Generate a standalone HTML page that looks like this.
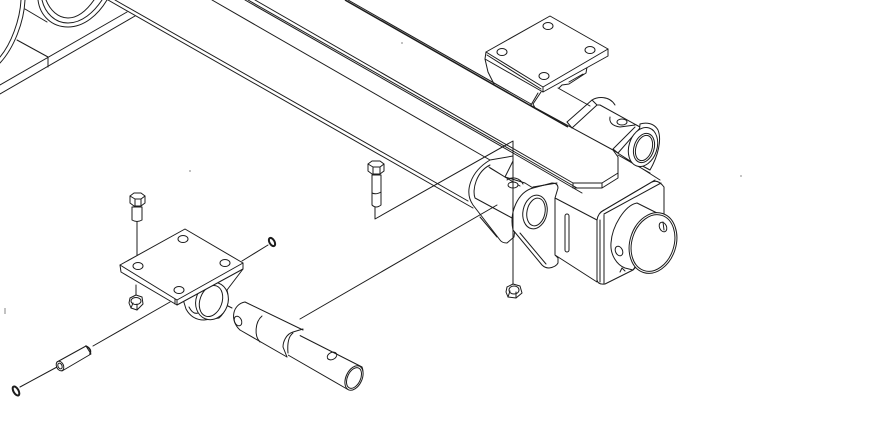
<!DOCTYPE html>
<html><head><meta charset="utf-8"><style>
html,body{margin:0;padding:0;background:#fff}
svg{display:block}
.l{fill:none;stroke:#1c1c1c;stroke-width:1;stroke-linejoin:round;stroke-linecap:round}
.w{fill:#fff;stroke:#1c1c1c;stroke-width:1;stroke-linejoin:round;stroke-linecap:round}
.t{fill:none;stroke:#1c1c1c;stroke-width:1.5;stroke-linejoin:round}
.r{fill:none;stroke:#1c1c1c;stroke-width:2}
.g{fill:none;stroke:#666;stroke-width:.8}
</style></head><body>
<svg width="885" height="441" viewBox="0 0 885 441" xmlns="http://www.w3.org/2000/svg">
<!-- top-left frame -->
<g class="l">
<path d="M0 85L127 12M0 94L135 16M48 57V67M17 40L48 57M25 9L47 22"/>
<path d="M25 0C24 22 14 48 0 63M21 0C20 20 11 44 0 57"/>
<path d="M38 0C40 16 52 27 68 27C84 27 98 15 107 0M42 0C45 13 55 23 68 23C82 23 94 12 102 0M46 0C50 10 58 18 68 18C78 18 87 10 94 0"/>
<!-- long beam lines -->
<path d="M108 0L473 208M115 0L468 201"/>
<path d="M212 0L490 160"/>
<path d="M245 0L513 153L582 193M248 0L513 151L577 188"/>
<path d="M255 0L573 183"/>
<path d="M530 105L613 150"/>
<path d="M348 0L531 104"/>
</g>
<path class="t" d="M345 0L531 106"/>
<path class="t" d="M531 106L568 127"/>
<!-- rear bracket on beam -->
<g class="l">
<path d="M485 59L488 72L494 84"/>
<path d="M531 105L538 93M535 108L533 104L541 92"/>
<path d="M558 88L590 106"/>
<path d="M587 67L586 73L569 84L562 85L559 88M569 82L583 74"/>
<path class="w" d="M550 16L608 49V56L543 92L485 59L486 52Z"/>
<path d="M486 52L543 87L608 49M543 87V92M487 55L541 89"/>
<ellipse cx="548" cy="26" rx="5" ry="3.500"/><ellipse cx="502" cy="52" rx="5" ry="3.500"/>
<ellipse cx="590" cy="50" rx="5" ry="3.500"/><ellipse cx="544" cy="76" rx="5" ry="3.500"/>
</g>
<!-- rear lug -->
<g class="l">
<path d="M567 122L592 100C597 97 609 95 615 105"/>
<path d="M572 128L597 105L600 105L640 127"/>
<path d="M567 122L572 128M592 100L597 105"/>
<path d="M610 117C609 122 612 126 620 127L635 125"/>
<ellipse cx="622" cy="122" rx="5" ry="3"/>
<path d="M613 149L635 127M618 153L640 128M613 149L618 153"/>
<path d="M613 150L660 180M618 155L650 173"/>
<path class="w" d="M640 124C646 122 654 123 658 130C662 140 658 156 650 170L637 163Z"/>
<ellipse class="w" cx="643" cy="147" rx="14" ry="20" transform="rotate(18 643 147)"/>
<ellipse cx="644" cy="148" rx="10" ry="15" transform="rotate(18 644 148)"/>
<ellipse cx="644" cy="148" rx="8" ry="13" transform="rotate(18 644 148)"/>
</g>
<!-- tube plate tail -->
<g class="l">
<path class="w" d="M573 183H602L618 173V157L613 150" style="fill:none"/>
<path d="M573 188H602L618 178V173M573 183V188M602 183V188"/>
</g>
<!-- front box -->
<g class="l">
<path d="M555 198L597 220V282L555 255V198Z"/>
<path class="w" d="M597 220Q598 213 604 210L652 182Q658 179 664 187V238L633 270L605 284Q598 285 597 280Z"/>
<path d="M600 220V282M604 215V284M601 212L655 180M604 214L661 183"/>
<rect x="565" y="214" width="4" height="38" rx="2"/>
<path class="w" d="M637 203C625 205 612 226 611 243C610 255 617 265 625 268L633 270L660 230L657 213Z"/>
<path d="M620 272L622 268L625 271"/>
<ellipse class="w" cx="653" cy="243" rx="23" ry="31" transform="rotate(18 653 243)"/>
<ellipse cx="653" cy="243" rx="21" ry="29" transform="rotate(18 653 243)"/>
<ellipse cx="663" cy="227" rx="3.500" ry="5" transform="rotate(-25 663 227)"/>
<path d="M663 222L664 230"/>
<ellipse cx="619" cy="251" rx="3.500" ry="5" transform="rotate(-25 619 251)"/>
</g>
<!-- front clevis -->
<g class="l">
<path class="w" d="M490 160L513 156L513 161L505 177L512 179L525 183L533 188L515 228L514 237L507 243Q502 243 500 240L473 205C464 192 470 172 490 160Z"/>
<path d="M490 165C476 172 472 190 475 198L512 218M489 167L505 177M490 168L520 186"/>
<path d="M480 217L497 237"/>
<path class="w" d="M533 188L552 183Q558 183 558 188L555 198V255L558 258V263Q556 267 549 268Q545 268 542 265L513 230C509 212 518 192 533 188Z"/>
<path d="M520 233L546 264M533 187L557 183"/>
<ellipse class="w" cx="535" cy="212" rx="12" ry="17" transform="rotate(12 535 212)"/>
<ellipse cx="536" cy="212" rx="9" ry="14" transform="rotate(12 536 212)"/>
<path d="M507 180C512 176 520 178 523 184"/>
<ellipse class="w" cx="513" cy="185" rx="5" ry="3"/>
</g>
<!-- leaders -->
<g class="l">
<path d="M375 207V219L513 141V285"/>
<path d="M300 319L497 205"/>
<path d="M137 221V266M136 285V296"/>
<path d="M242 261L268 245"/>
<path d="M20 387L57 367M93 346L170 302"/>
<path d="M222 303L232 308"/>
</g>
<!-- big bolt -->
<g class="l">
<path class="w" d="M372 175V205Q376 209 381 205V175Z"/>
<path d="M372 193Q376 195 381 192"/>
<path class="w" d="M368 164L372 161H380L384 164V171L380 174H372L368 171Z"/>
<path d="M368 164L373 167H380L384 164M373 167V174M380 167V174"/>
</g>
<!-- nut right -->
<g class="l">
<path class="w" d="M507 287L513 284L520 286L522 293L516 298L508 297L506 292Z"/>
<ellipse cx="514" cy="290" rx="5" ry="4"/><path d="M508 297L510 291M516 298V292"/>
</g>
<!-- small bolt -->
<g class="l">
<path class="w" d="M132 207V220Q137 223 142 220V207Z"/>
<path class="w" d="M130 196L134 193H141L145 196V203L141 206H134L130 203Z"/>
<path d="M130 196L135 199H141L145 196M135 199V206M141 199V206"/>
</g>
<!-- pillow block -->
<g class="l">
<path class="w" d="M182 296L186 309Q192 320 204 320L219 318C226 312 230 300 227 290L243 269L200 282Z"/>
<ellipse class="w" cx="212" cy="301" rx="16" ry="19" transform="rotate(20 212 301)"/>
<ellipse class="w" cx="211" cy="301" rx="11" ry="16" transform="rotate(20 211 301)"/>
<path d="M189 307C192 313 195 314 198 313M230 275L240 270"/>
<path class="w" d="M185 229L243 263V269L177 305L121 272L120 265Z"/>
<path d="M120 265L177 300L243 263M177 300V305M175 299V304"/>
<ellipse cx="183" cy="239" rx="5" ry="3.500"/><ellipse cx="138" cy="266" rx="5" ry="3.500"/>
<ellipse cx="225" cy="263" rx="5" ry="3.500"/><ellipse cx="179" cy="290" rx="5" ry="3.500"/>
</g>
<!-- small nut left -->
<g class="l">
<path class="w" d="M130 298L136 295L142 297L143 304L137 310L131 308L129 303Z"/>
<ellipse cx="136" cy="301" rx="5" ry="3.500"/><path d="M131 308L133 303M137 310V304"/>
</g>
<!-- washers -->
<g class="r">
<ellipse cx="272" cy="242" rx="2.500" ry="4.500" transform="rotate(-30 272 242)"/>
<ellipse cx="16" cy="391" rx="2.500" ry="5" transform="rotate(-30 16 391)"/>
</g>
<!-- small pin -->
<g class="l">
<path class="w" d="M57 362L86 346L91 354L62 371Z"/>
<ellipse class="w" cx="60" cy="366" rx="3.500" ry="5" transform="rotate(-25 60 366)"/>
<ellipse cx="60" cy="366" rx="2" ry="3" transform="rotate(-25 60 366)"/>
<path class="t" d="M86 346Q92 349 90 354"/>
</g>
<!-- large pin -->
<g class="l">
<path class="w" d="M293 332L362 367C366 376 356 394 347 389L288 355Z"/>
<ellipse class="w" cx="354" cy="378" rx="8" ry="13" transform="rotate(25 354 378)"/>
<ellipse cx="354" cy="378" rx="6.500" ry="11" transform="rotate(25 354 378)"/>
<ellipse cx="332" cy="356" rx="3.500" ry="5" transform="rotate(65 332 356)"/>
<path class="w" d="M245 302L303 330L287 357L240 330C230 322 232 305 245 302Z" style="stroke:none"/>
<path d="M245 302L303 330M240 330L287 357"/>
<path d="M245 302C233 304 229 320 240 330"/>
<ellipse cx="238" cy="321" rx="3.500" ry="5" transform="rotate(-25 238 321)"/>
<path d="M262 316C255 322 254 336 260 342"/>
<path d="M303 329L293 332C286 334 283 342 283 347L287 357M293 333C289 336 287 342 288 353"/>
</g>
<!-- specks -->
<g class="g">
<path d="M5 308V314M190 170V172M740 176H742M402 42V44"/>
</g>
</svg>
</body></html>
